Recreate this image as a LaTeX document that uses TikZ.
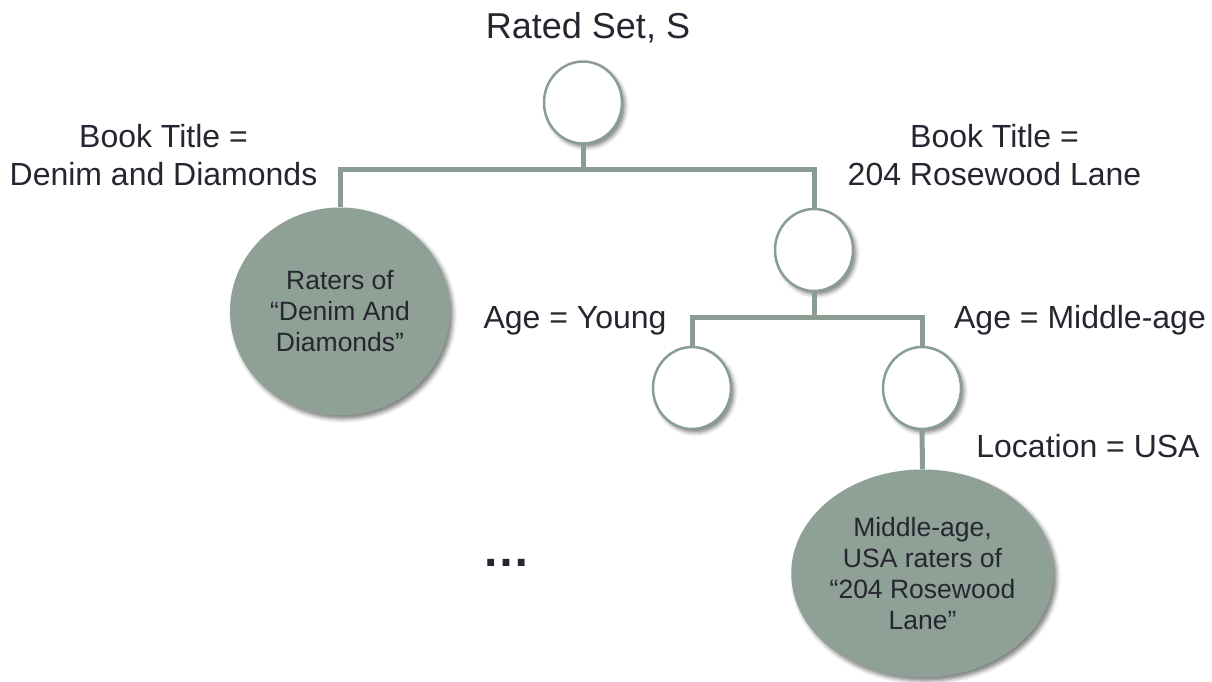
\documentclass[tikz,border=0pt]{standalone}
\usepackage{fontspec}
\setmainfont{Liberation Sans}
\usetikzlibrary{shapes.geometric,shadows.blur}
\definecolor{sage}{RGB}{143,160,150}
\definecolor{sageline}{RGB}{138,157,147}
\definecolor{ink}{RGB}{38,38,48}

\begin{document}
\begin{tikzpicture}[x=1pt,y=-1pt,
  lbl/.style={text=ink, font=\fontsize{32}{37}\selectfont, anchor=base, inner sep=0},
  soft/.style={blur shadow={shadow xshift=3pt, shadow yshift=-3.5pt,
      shadow blur radius=4pt, shadow opacity=50}},
  hollow/.style={ellipse, draw=sageline, line width=2.5pt, fill=white,
      minimum width=78pt, minimum height=82pt, inner sep=0, soft},
  leaf/.style={ellipse, fill=sage, minimum width=220pt, minimum height=208pt,
      inner sep=0, align=center, text=ink, font=\fontsize{26.5}{31}\selectfont, soft},
  conn/.style={draw=sageline, line width=5pt}
]
\useasboundingbox (0,0) rectangle (1212,681);

% tree nodes
\node[hollow] (root) at (583,102.5) {};
\node[hollow] (mid)  at (814,250) {};
\node[hollow] (young) at (692,388) {};
\node[hollow] (midage) at (922,388) {};
\node[leaf] (dd) at (340,311.5) {Raters of\\“Denim And\\Diamonds”};
\node[leaf] (usa) at (922.5,573.5) {Middle-age,\\USA raters of\\“204 Rosewood\\Lane”};

% branch points
\coordinate (j1) at (583,169);
\coordinate (j2) at (814,317);

% connectors
\draw[conn] (root.south) -- (j1);
\draw[conn] (dd.north) |- (j1) -| (mid.north);
\draw[conn] (mid.south) -- (j2);
\draw[conn] (young.north) |- (j2) -| (midage.north);
\draw[conn] (midage.south) -- (usa.north);

% labels
\node[lbl, font=\fontsize{36}{40}\selectfont] (title) at (588,38) {Rated Set, S};
\node[lbl] (bt1a) at (163.5,147) {Book Title =};
\node[lbl] (bt1b) at (163.5,185) {Denim and Diamonds};
\node[lbl] (bt2a) at (994.5,147) {Book Title =};
\node[lbl] (bt2b) at (994.5,185) {204 Rosewood Lane};
\node[lbl] (agey) at (575,328) {Age = Young};
\node[lbl] (agem) at (1080,328) {Age = Middle-age};
\node[lbl] (loc) at (1088,457) {Location = USA};
\node[lbl, font=\fontsize{48}{50}\selectfont\bfseries] (more) at (506,566) {…};
\end{tikzpicture}
\end{document}
